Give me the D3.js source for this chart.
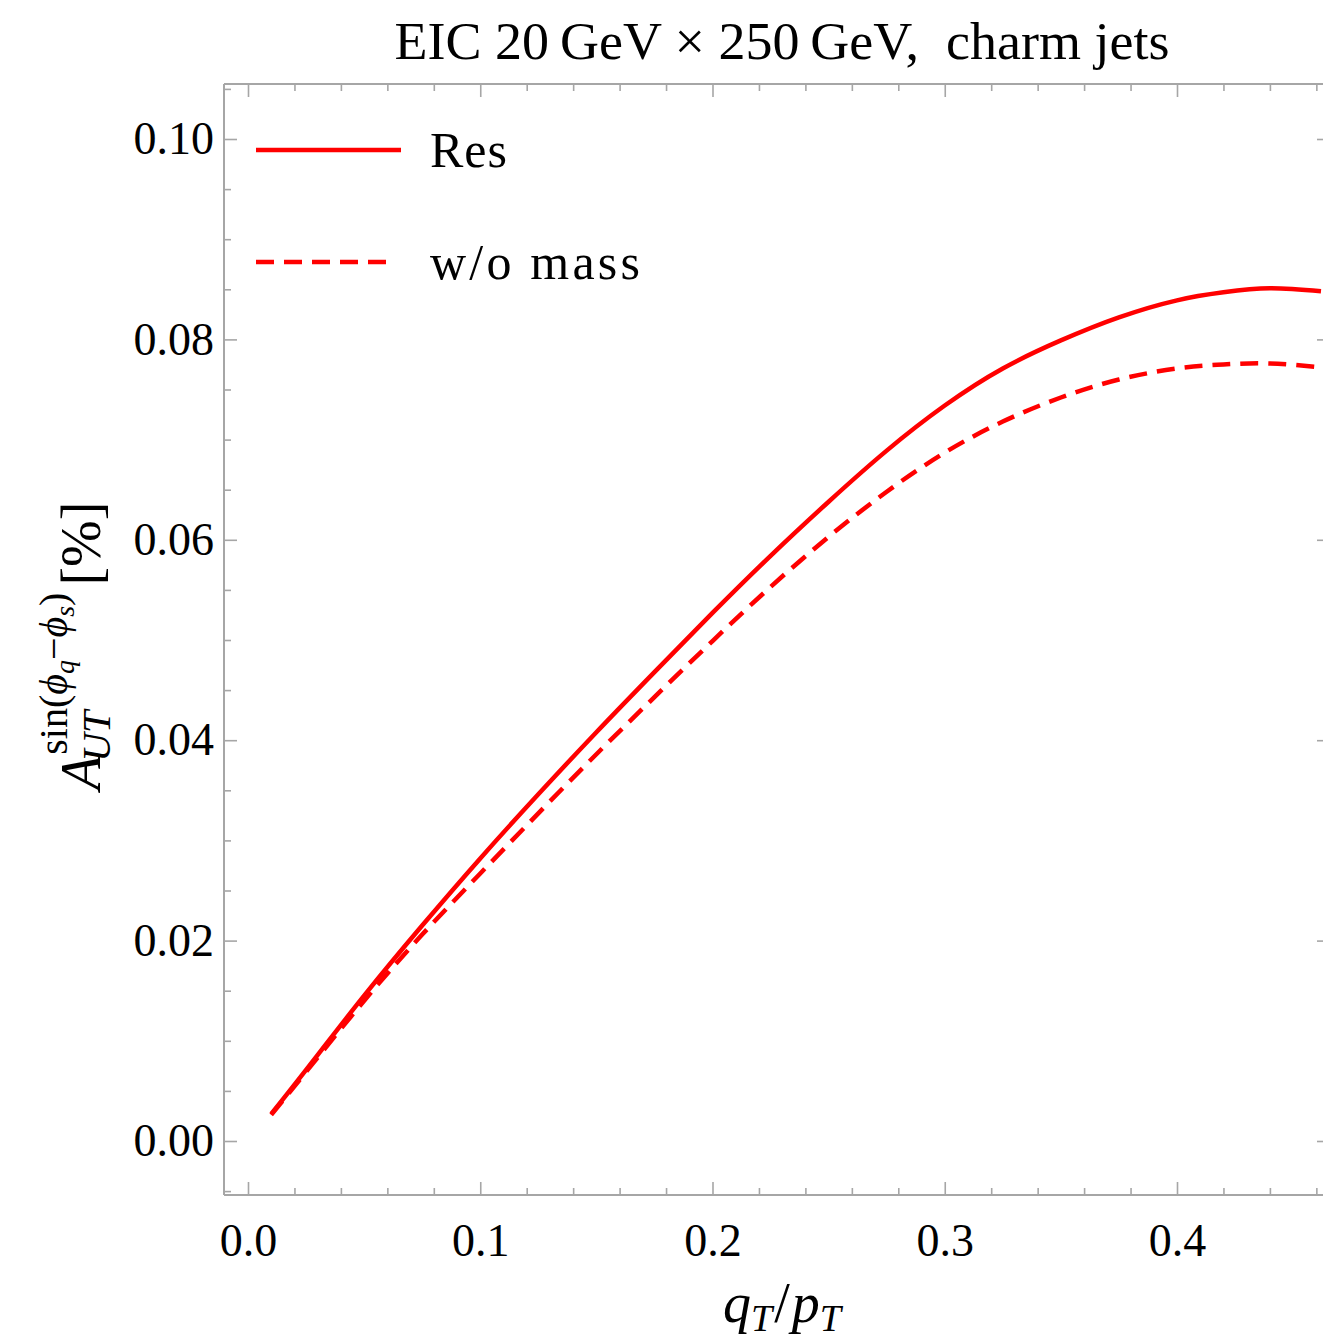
<!DOCTYPE html>
<html>
<head>
<meta charset="utf-8">
<script src="https://cdn.jsdelivr.net/npm/d3@7"></script>
<style>
  html, body { margin: 0; padding: 0; background: #fff; }
  svg { display: block; }
  text { font-family: "Liberation Serif", "DejaVu Serif", serif; fill: #000; }
</style>
</head>
<body>
<div id="chart"></div>
<script>
// ---------------- data ----------------
const qT = [0.01, 0.025, 0.05, 0.075, 0.10, 0.125, 0.15, 0.175, 0.20, 0.225, 0.25, 0.275, 0.30, 0.325, 0.35, 0.375, 0.40, 0.42, 0.44, 0.462];
const resValues = [0.0027, 0.0071, 0.0145, 0.0215, 0.0282, 0.0346, 0.0408, 0.0468, 0.0527, 0.0584, 0.0638, 0.0689, 0.0734, 0.0771, 0.0799, 0.0822, 0.0839, 0.0847, 0.0851, 0.0848];
const noMassValues = [0.0026, 0.0069, 0.0140, 0.0206, 0.0267, 0.0327, 0.0386, 0.0443, 0.0499, 0.0553, 0.0603, 0.0648, 0.0687, 0.0718, 0.0742, 0.0760, 0.0771, 0.0775, 0.0776, 0.0772];
const seriesNames = ["Res", "w/o mass"];
const seriesDash = [null, "18,10"];
const xTickValues = [0.0, 0.1, 0.2, 0.3, 0.4];
const xTickLabels = ["0.0", "0.1", "0.2", "0.3", "0.4"];
const yTickValues = [0.00, 0.02, 0.04, 0.06, 0.08, 0.10];
const yTickLabels = ["0.00", "0.02", "0.04", "0.06", "0.08", "0.10"];
const titleText = "EIC 20\u2009GeV \u00d7 250\u2009GeV,\u2002charm jets";

// ---------------- layout ----------------
const W = 1323, H = 1342;
const frame = { left: 224, right: 1330, top: 84, bottom: 1195 };
const red = "#ff0000";
const axisGrey = "#a6a6a6";

const svg = d3.select("#chart").append("svg").attr("width", W).attr("height", H);

const x = d3.scaleLinear().domain([0, 0.4]).range([248, 1177]);
const y = d3.scaleLinear().domain([0, 0.1]).range([1141, 139]);

const xMinor = d3.range(-0.0, 0.47, 0.02).filter(v => !xTickValues.some(t => Math.abs(t - v) < 1e-9));
const yMinor = d3.range(-0.005, 0.106, 0.005).filter(v => !yTickValues.some(t => Math.abs(t - v) < 1e-9));

function styleAxis(g) {
  g.select(".domain").remove();
  g.selectAll(".tick line").attr("stroke", axisGrey).attr("stroke-width", 1.6);
  g.selectAll(".tick text").style("font-size", "46px").attr("fill", "#000");
}

// bottom axis: major + minor, ticks pointing inward
svg.append("g").attr("transform", `translate(0,${frame.bottom})`)
  .call(d3.axisBottom(x).tickValues(xMinor).tickSize(-7).tickFormat(""))
  .call(styleAxis);
svg.append("g").attr("transform", `translate(0,${frame.bottom})`)
  .call(d3.axisBottom(x).tickValues(xTickValues).tickSize(-13).tickPadding(22)
    .tickFormat((d, i) => xTickLabels[i]))
  .call(styleAxis)
  .call(g => g.selectAll(".tick text").attr("dy", "0.85em"));

// top axis (ticks only)
svg.append("g").attr("transform", `translate(0,${frame.top})`)
  .call(d3.axisTop(x).tickValues(xMinor).tickSize(-7).tickFormat(""))
  .call(styleAxis);
svg.append("g").attr("transform", `translate(0,${frame.top})`)
  .call(d3.axisTop(x).tickValues(xTickValues).tickSize(-13).tickFormat(""))
  .call(styleAxis);

// left axis
svg.append("g").attr("transform", `translate(${frame.left},0)`)
  .call(d3.axisLeft(y).tickValues(yMinor).tickSize(-7).tickFormat(""))
  .call(styleAxis);
svg.append("g").attr("transform", `translate(${frame.left},0)`)
  .call(d3.axisLeft(y).tickValues(yTickValues).tickSize(-13).tickPadding(10)
    .tickFormat((d, i) => yTickLabels[i]))
  .call(styleAxis);

// right axis (mostly off-canvas)
svg.append("g").attr("transform", `translate(${frame.right},0)`)
  .call(d3.axisRight(y).tickValues(yTickValues).tickSize(-13).tickFormat(""))
  .call(styleAxis);

// frame lines
const fr = svg.append("g").attr("stroke", axisGrey).attr("stroke-width", 2).attr("fill", "none");
fr.append("line").attr("x1", frame.left).attr("x2", frame.right).attr("y1", frame.bottom).attr("y2", frame.bottom);
fr.append("line").attr("x1", frame.left).attr("x2", frame.right).attr("y1", frame.top).attr("y2", frame.top);
fr.append("line").attr("x1", frame.left).attr("x2", frame.left).attr("y1", frame.top).attr("y2", frame.bottom);
fr.append("line").attr("x1", frame.right).attr("x2", frame.right).attr("y1", frame.top).attr("y2", frame.bottom);

// clip
svg.append("clipPath").attr("id", "plotclip").append("rect")
  .attr("x", frame.left).attr("y", frame.top)
  .attr("width", frame.right - frame.left).attr("height", frame.bottom - frame.top);

const line = d3.line().x(d => x(d[0])).y(d => y(d[1])).curve(d3.curveNatural);
const series = [resValues, noMassValues];
const plot = svg.append("g").attr("clip-path", "url(#plotclip)");
series.forEach((vals, i) => {
  plot.append("path")
    .datum(qT.map((q, j) => [q, vals[j]]))
    .attr("d", line)
    .attr("fill", "none")
    .attr("stroke", red)
    .attr("stroke-width", 4.5)
    .attr("stroke-dasharray", seriesDash[i]);
});

// legend
const legendRows = [{ y: 150, x2: 401, w: 77 }, { y: 262, x2: 392, w: 210 }];
seriesNames.forEach((name, i) => {
  svg.append("line")
    .attr("x1", 256).attr("x2", legendRows[i].x2)
    .attr("y1", legendRows[i].y).attr("y2", legendRows[i].y)
    .attr("stroke", red).attr("stroke-width", 4.5)
    .attr("stroke-dasharray", seriesDash[i]);
  svg.append("text")
    .attr("x", 430).attr("y", legendRows[i].y + 17)
    .attr("textLength", legendRows[i].w).attr("lengthAdjust", "spacing")
    .style("font-size", "50px")
    .text(name);
});

// title
svg.append("text")
  .attr("x", 782).attr("y", 59)
  .attr("text-anchor", "middle")
  .attr("textLength", 775).attr("lengthAdjust", "spacingAndGlyphs")
  .style("font-size", "52px")
  .text(titleText);

// x label  q_T / p_T
const xl = svg.append("text").attr("x", 782).attr("y", 1322).attr("text-anchor", "middle").style("font-size", "56px");
xl.append("tspan").style("font-style", "italic").text("q");
xl.append("tspan").style("font-style", "italic").style("font-size", "38px").attr("dy", 9).text("T");
xl.append("tspan").attr("dy", -9).attr("dx", 2).text("/");
xl.append("tspan").style("font-style", "italic").attr("dx", 2).text("p");
xl.append("tspan").style("font-style", "italic").style("font-size", "38px").attr("dy", 9).text("T");

// y label  A_UT^{sin(phi_q - phi_s)} [%]
const yl = svg.append("g").attr("transform", "translate(100,790) rotate(-90)");
const tA = yl.append("text").attr("x", 0).attr("y", 0).style("font-size", "56px").style("font-style", "italic").text("A");
const wA = tA.node().getComputedTextLength();
const sup = yl.append("text").attr("x", wA + 1).attr("y", -33).style("font-size", "40px");
sup.append("tspan").text("sin(");
sup.append("tspan").style("font-style", "italic").text("\u03d5");
sup.append("tspan").style("font-style", "italic").style("font-size", "28px").attr("dy", 7).text("q");
sup.append("tspan").attr("dy", -7).text("\u2212");
sup.append("tspan").style("font-style", "italic").text("\u03d5");
sup.append("tspan").style("font-style", "italic").style("font-size", "28px").attr("dy", 7).text("s");
sup.append("tspan").attr("dy", -7).text(")");
const wSup = sup.node().getComputedTextLength();
yl.append("text").attr("x", wA - 6).attr("y", 10).style("font-size", "40px").style("font-style", "italic").text("UT");
yl.append("text").attr("x", wA + wSup + 8).attr("y", 0).style("font-size", "56px").text("[%]");
</script>
</body>
</html>
